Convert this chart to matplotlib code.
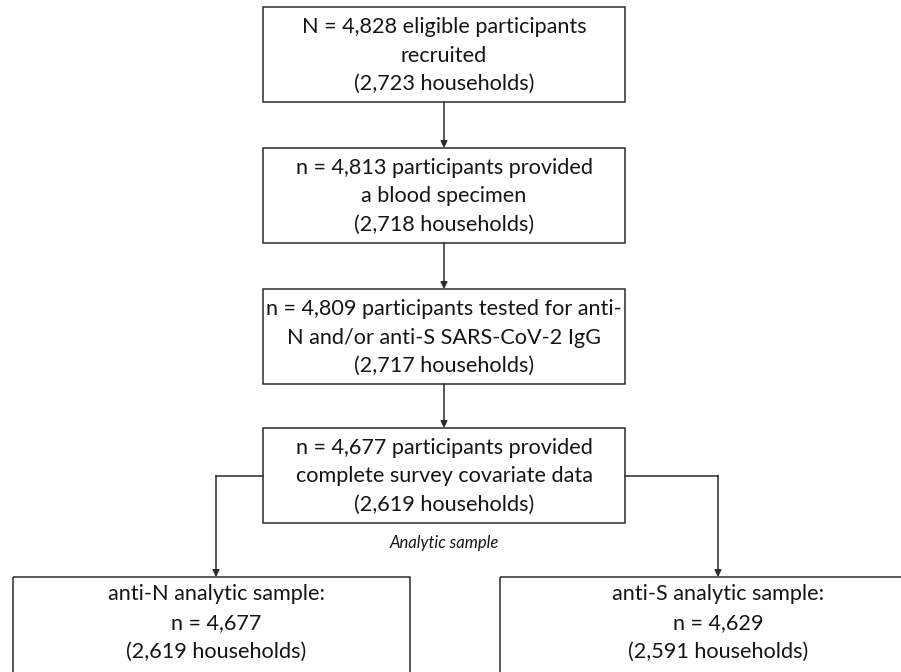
import matplotlib.pyplot as plt
from matplotlib.patches import Rectangle

plt.rcParams['font.family'] = ['Lato', 'DejaVu Sans']

# box texts, top to bottom
main_steps = [
    "N = 4,828 eligible participants\nrecruited\n(2,723 households)",
    "n = 4,813 participants provided\na blood specimen\n(2,718 households)",
    "n = 4,809 participants tested for anti-\nN and/or anti-S SARS-CoV-2 IgG\n(2,717 households)",
    "n = 4,677 participants provided\ncomplete survey covariate data\n(2,619 households)",
]
split_label = "Analytic sample"
branch_steps = [
    "anti-N analytic sample:\nn = 4,677\n(2,619 households)",
    "anti-S analytic sample:\nn = 4,629\n(2,591 households)",
]

# layout in pixel units
main_x0, main_x1 = 263, 625
main_tops = [7, 148, 289, 428]
main_h = 95
branch_boxes = [(13, 410), (500, 905)]
branch_cx = [216, 718]
branch_top = 577
branch_h = 110

line_col = '#2b2b2b'
txt_col = '#151515'
fs = 15.6

fig = plt.figure(figsize=(9.01, 6.72), dpi=100)
ax = fig.add_axes([0, 0, 1, 1])
ax.set_xlim(0, 901)
ax.set_ylim(672, 0)
ax.axis('off')

cx = (main_x0 + main_x1) / 2
for i, txt in enumerate(main_steps):
    top = main_tops[i]
    ax.add_patch(Rectangle((main_x0, top), main_x1 - main_x0, main_h,
                           fill=False, edgecolor=line_col, lw=1.1))
    ax.text(cx, top + main_h / 2 + 1, txt, ha='center', va='center',
            fontsize=fs, color=txt_col, linespacing=1.55)
    if i < len(main_steps) - 1:
        ax.annotate('', xy=(cx, main_tops[i + 1]), xytext=(cx, top + main_h),
                    arrowprops=dict(arrowstyle='-|>', color=line_col, lw=1.1,
                                    mutation_scale=10, shrinkA=0, shrinkB=0))

last_top = main_tops[-1]
ax.text(cx, last_top + main_h + 20, split_label, ha='center', va='center',
        fontsize=12, style='italic', color=txt_col)

mid_y = last_top + main_h / 2
for (x0, x1), bx, txt in zip(branch_boxes, branch_cx, branch_steps):
    edge = main_x0 if bx < cx else main_x1
    ax.plot([edge, bx], [mid_y, mid_y], color=line_col, lw=1.1)
    ax.annotate('', xy=(bx, branch_top), xytext=(bx, mid_y),
                arrowprops=dict(arrowstyle='-|>', color=line_col, lw=1.1,
                                mutation_scale=10, shrinkA=0, shrinkB=0))
    ax.add_patch(Rectangle((x0, branch_top), x1 - x0, branch_h,
                           fill=False, edgecolor=line_col, lw=1.1, clip_on=False))
    ax.text(bx, branch_top + 46, txt, ha='center', va='center',
            fontsize=fs, color=txt_col, linespacing=1.55)

fig.savefig('out.png', dpi=100)
